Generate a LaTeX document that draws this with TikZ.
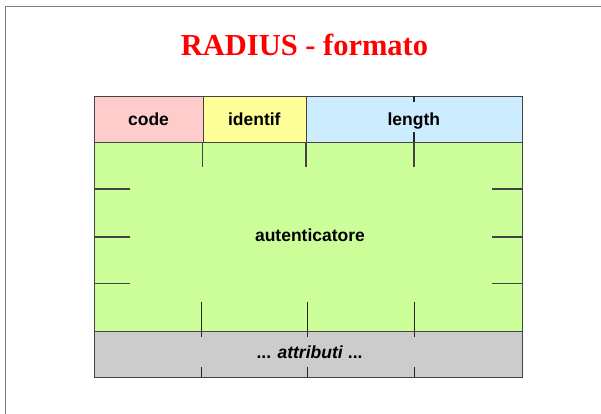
\documentclass[tikz,border=0pt]{standalone}
\usepackage{fontspec}
\setmainfont{Liberation Sans}
\newfontfamily\titlefont{Liberation Serif}
\definecolor{cpink}{HTML}{FFCCCC}
\definecolor{cyellow}{HTML}{FFFF99}
\definecolor{cblue}{HTML}{CCECFF}
\definecolor{cgreen}{HTML}{CCFF99}
\definecolor{cgrey}{HTML}{CCCCCC}
\definecolor{cedge}{HTML}{444444}
\definecolor{cframe}{HTML}{808080}
\tikzset{
  cell/.style={draw=cedge, line width=1pt, rectangle, inner sep=0pt, anchor=north west,
    font=\fontsize{17.5}{20}\selectfont\bfseries},
  tick/.style={line width=1.4pt, draw=black!85},
  sidetick/.style={line width=1.2pt, draw=cedge},
}
\begin{document}
\begin{tikzpicture}[x=1pt,y=-1pt]
\useasboundingbox (0,0) rectangle (601,414);
% slide frame
\draw[cframe, line width=1.5pt] (5.5,414) -- (5.5,6.5) -- (601,6.5);
% title
\node[text=red, font=\titlefont\fontsize{30.5}{34}\selectfont\bfseries, anchor=base] (title) at (304.5,56) {RADIUS - formato};
% cells
\node[cell, fill=cgreen, minimum width=427.4pt, minimum height=188.4pt] (auth) at (94.3,142.3) {};
\node[cell, fill=cgrey, minimum width=427.4pt, minimum height=46.6pt] (attr) at (94.3,330.7) {};
\node[cell, fill=cpink, minimum width=108.4pt, minimum height=46.6pt] (code) at (94.3,95.7) {};
\node[cell, fill=cyellow, minimum width=103.3pt, minimum height=46.6pt] (ident) at (202.7,95.7) {};
\node[cell, fill=cblue, minimum width=215.7pt, minimum height=46.6pt] (len) at (306,95.7) {};
% texts
\node[font=\fontsize{17.5}{20}\selectfont\bfseries, anchor=base] (tcode) at (148.5,126) {code};
\node[font=\fontsize{17.5}{20}\selectfont\bfseries, anchor=base] (tident) at (254.3,126) {identif};
\node[font=\fontsize{17.5}{20}\selectfont\bfseries, anchor=base] (tlen) at (413.8,126) {length};
\node[font=\fontsize{17.5}{20}\selectfont\bfseries, anchor=base] (tauth) at (310,241) {autenticatore};
\node[font=\fontsize{17.5}{20}\selectfont\bfseries, anchor=base] (tattr) at (309.5,358) {... \textit{attributi} ...};
% ticks in length header
\draw[tick] (414,95.7) -- (414,102.3);
\draw[tick] (414,132.3) -- (414,142.3);
% ticks below header
\draw[sidetick] (202.7,142.3) -- (202.7,167.3);
\draw[sidetick] (306,142.3) -- (306,167.3);
\draw[sidetick] (414,142.3) -- (414,167.3);
% side ticks
\foreach \yy in {189,237,283.5} {
  \draw[sidetick] (94.3,\yy) -- (130,\yy);
  \draw[sidetick] (492,\yy) -- (521.7,\yy);
}
% bottom ticks across green / grey
\foreach \xx in {201.5,307.5,414.5} {
  \draw[tick] (\xx,302.3) -- (\xx,337.3);
  \draw[tick] (\xx,367.3) -- (\xx,377.3);
}
\end{tikzpicture}
\end{document}
